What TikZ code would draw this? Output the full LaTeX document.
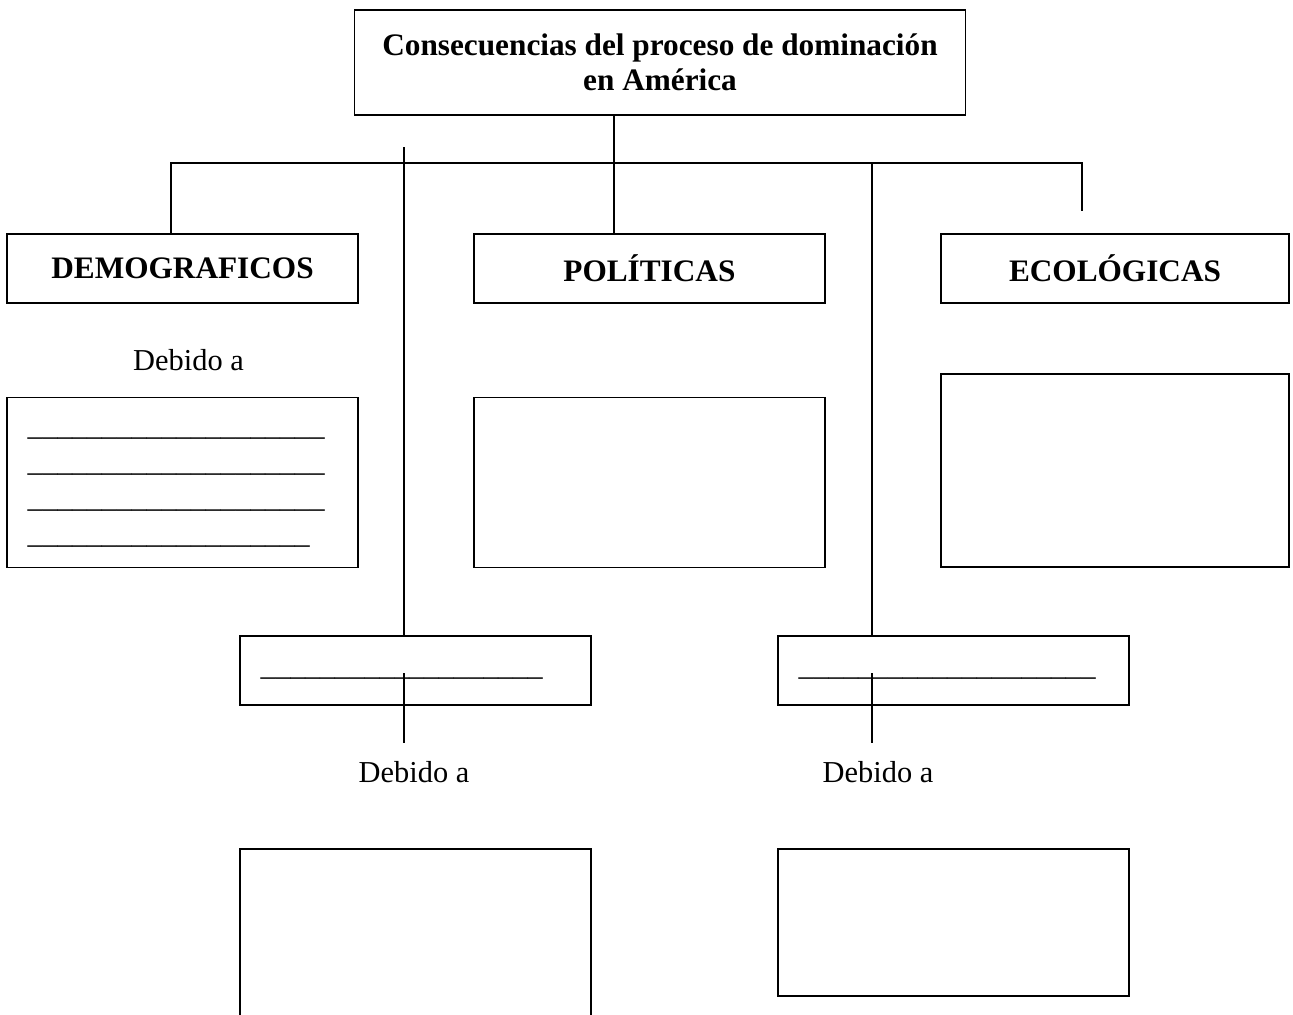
\documentclass[tikz,border=0pt]{standalone}
\usepackage{fontspec}
\setmainfont{Liberation Serif}
\usetikzlibrary{positioning}

\tikzset{
  caja/.style={draw, line width=0.8pt, minimum width=7.02cm, minimum height=1.38cm, inner sep=0pt, font=\fontsize{17.8}{20}\selectfont\bfseries},
  hueco/.style={draw, line width=0.8pt, minimum width=7.02cm, inner sep=0pt},
  texto/.style={font=\fontsize{17.3}{20}\selectfont},
  raya/.style={font=\fontsize{16.9}{20}\selectfont, anchor=base west, inner sep=0pt, yshift=0.06cm}
}
\newcommand{\rayas}[1]{\foreach \n in {1,...,#1}{\_}}

\begin{document}
\begin{tikzpicture}[x=0.02cm, y=-0.02cm, line width=0.8pt, on grid]
    \useasboundingbox (0,0) rectangle (1293,1014);

    \node[caja, minimum width=12.22cm, minimum height=2.1cm, align=center] (titulo) at (660,62.5) {Consecuencias del proceso de dominación\\ en América};

    \node[caja]     (dem)     at (182.5,268.5)            {DEMOGRAFICOS};
    \node[caja]     (pol)     [right=9.34cm of dem]       {POLÍTICAS};
    \node[caja, minimum width=6.96cm] (eco) at (1115,268.5) {ECOLÓGICAS};

    \node[texto]    (deb1)    at (188.5,360)              {Debido a};
    \node[hueco, minimum height=3.4cm]  (lineas)  [below=4.28cm of dem] {};
    \node[hueco, minimum height=3.4cm]  (polcaja) [below=4.28cm of pol] {};
    \node[hueco, minimum height=3.86cm, minimum width=6.96cm] (ecocaja) at (1115,470.5) {};

    \node[hueco, minimum height=1.38cm] (ci) at (415.5,670.5) {};
    \node[hueco, minimum height=1.38cm] (cd) at (953.5,670.5) {};
    \node[texto]    (deb2)    at (414,772)                {Debido a};
    \node[texto]    (deb3)    at (878,772)                {Debido a};
    \node[hueco, minimum height=3.5cm]  (abi) at (415.5,936.5) {};
    \node[hueco, minimum height=2.94cm] (abd) at (953.5,922.5) {};

    % rayas para completar
    \foreach \y/\nombre in {438/r1, 474/r2, 510/r3}
        \node[raya] (\nombre) at (27,\y) {\rayas{20}};
    \node[raya] (r4) at (27,546)  {\rayas{19}};
    \node[raya] (ri) at (260,678) {\rayas{19}};
    \node[raya] (rd) at (798,678) {\rayas{20}};

    % conectores
    \coordinate (t1)     at (614,163);
    \coordinate (izq)    at (171,163);
    \coordinate (der)    at (1082,163);
    \coordinate (derfin) at (1082,211);
    \draw (t1 |- titulo.south) -- (t1 |- pol.north);
    \draw (izq |- dem.north) -- (izq) -- (der) -- (derfin);

    \coordinate (v1)  at (404,147);
    \coordinate (v1a) at (404,673);
    \coordinate (v1b) at (404,743);
    \draw (v1) -- (v1 |- ci.north);
    \draw (v1a) -- (v1b);

    \coordinate (v2)  at (872,163);
    \coordinate (v2a) at (872,673);
    \coordinate (v2b) at (872,743);
    \draw (v2) -- (v2 |- cd.north);
    \draw (v2a) -- (v2b);
\end{tikzpicture}
\end{document}
